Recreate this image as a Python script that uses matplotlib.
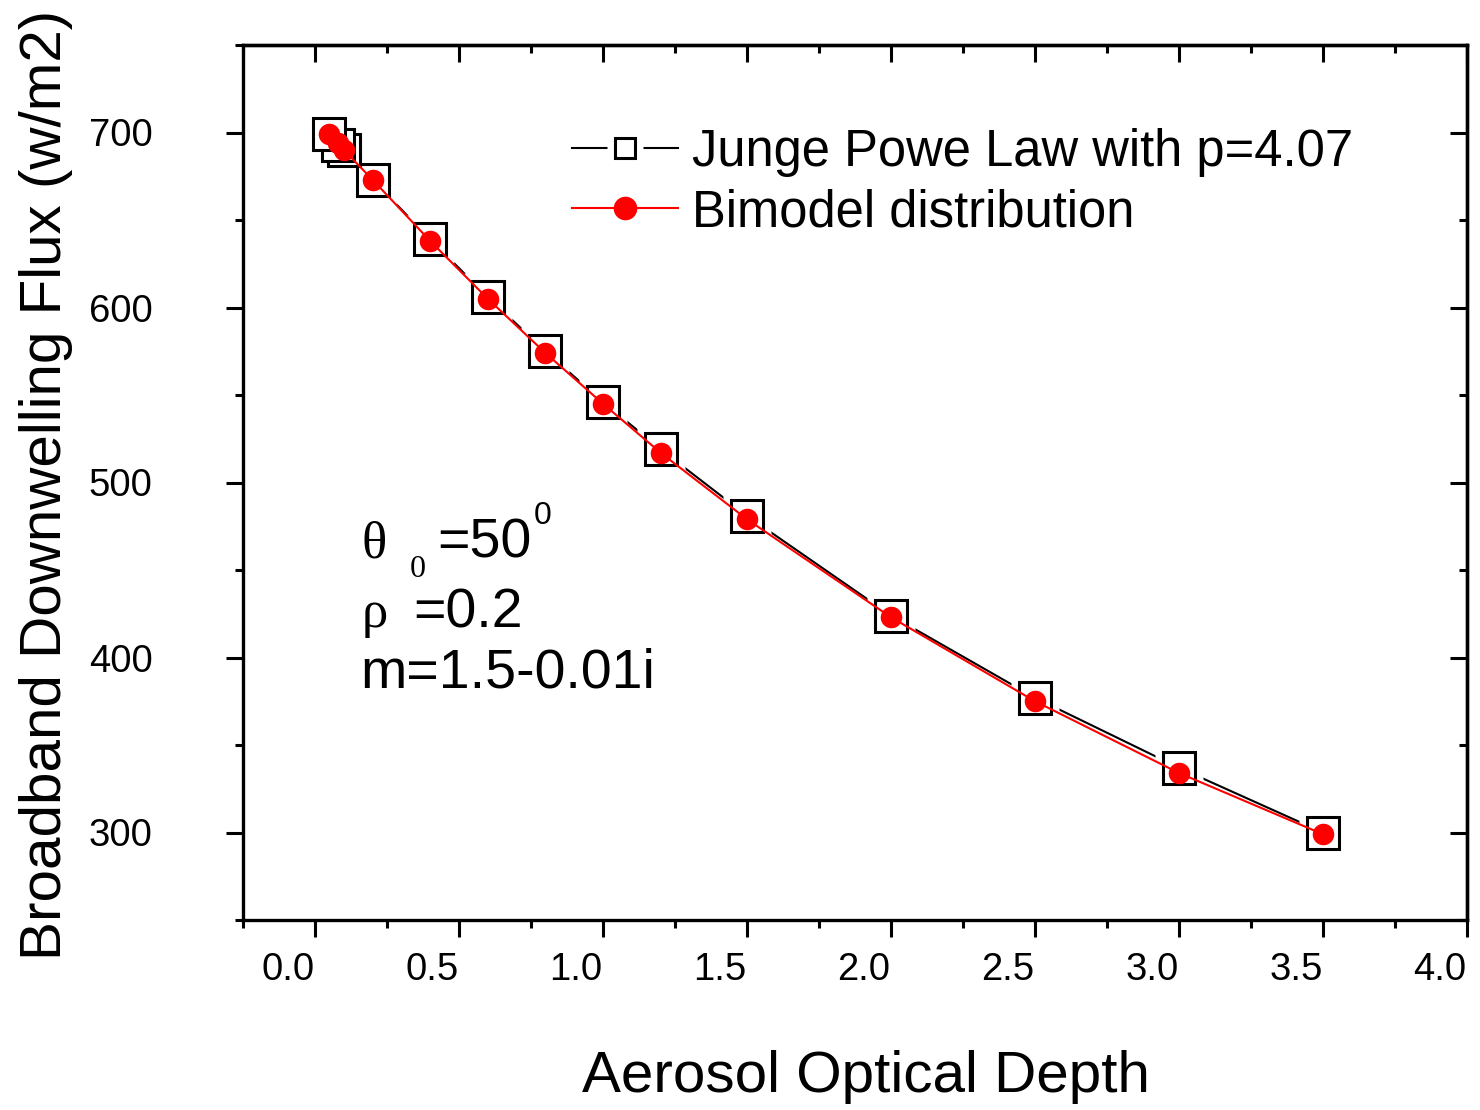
import matplotlib
matplotlib.use("Agg")
import matplotlib.pyplot as plt
from matplotlib.ticker import MultipleLocator, FixedLocator
from matplotlib.transforms import ScaledTranslation
from matplotlib.lines import Line2D
from matplotlib.legend_handler import HandlerTuple

plt.rcParams['font.family'] = ['Liberation Sans', 'DejaVu Sans']

# aerosol optical depth and broadband downwelling flux (W/m2)
aod = [0.05, 0.08, 0.10, 0.20, 0.40, 0.60, 0.80, 1.00, 1.20, 1.50, 2.00, 2.50, 3.00, 3.50]
junge_flux = [699, 693, 690, 673, 639, 606, 575, 546, 519, 481, 424, 377, 337, 300]
bimodal_flux = [699, 694, 690, 673, 638, 605, 574, 545, 517, 479, 423, 375, 334, 299]

junge_label = "Junge Powe Law with p=4.07"
bimodal_label = "Bimodel distribution"
x_ticks = [0.0, 0.5, 1.0, 1.5, 2.0, 2.5, 3.0, 3.5, 4.0]
y_ticks = [300, 400, 500, 600, 700]

W, H = 1480, 1110
fig = plt.figure(figsize=(W / 100, H / 100), dpi=100)
ax = fig.add_axes([243 / W, 1 - 920 / H, 1224 / W, 875 / H])

# black curve with white halo so the line stops short of each square
ax.plot(aod, junge_flux, color='black', lw=1.5, zorder=2)
ax.plot(aod, junge_flux, ls='none', marker='s', ms=35, mfc='white', mec='none', zorder=2.1)
ax.plot(aod[::-1], junge_flux[::-1], ls='none', marker='s', ms=22.5, mfc='white',
        mec='black', mew=2.2, zorder=2.3)
ax.plot(aod, bimodal_flux, color='red', lw=1.5, zorder=2.4)
ax.plot(aod, bimodal_flux, ls='none', marker='o', ms=15.5, mfc='red', mec='none', zorder=2.5)

ax.set_xlim(-0.25, 4.0)
ax.set_ylim(250, 750)
ax.xaxis.set_major_locator(FixedLocator(x_ticks))
ax.xaxis.set_minor_locator(MultipleLocator(0.25))
ax.yaxis.set_major_locator(FixedLocator(y_ticks))
ax.yaxis.set_minor_locator(MultipleLocator(50))
ax.set_xticklabels([f"{v:.1f}" for v in x_ticks])
ax.set_yticklabels([str(v) for v in y_ticks])

for sp in ax.spines.values():
    sp.set_linewidth(2.4)

ax.tick_params(which='both', direction='out', width=2.2, top=False, right=False,
               labelsize=27.5)
ax.tick_params(which='major', length=12)
ax.tick_params(which='minor', length=6)
ax.tick_params(axis='x', which='major', pad=11)
ax.tick_params(axis='y', which='major', pad=53)

# Origin-style: x tick labels sit a bit left of their ticks
shift = ScaledTranslation(-0.27, 0, fig.dpi_scale_trans)
for lab in ax.get_xticklabels():
    lab.set_transform(lab.get_transform() + shift)

# top / right ticks point inward
top = ax.secondary_xaxis('top')
top.xaxis.set_major_locator(FixedLocator(x_ticks))
top.xaxis.set_minor_locator(MultipleLocator(0.25))
top.tick_params(which='both', direction='in', width=2.2, labeltop=False)
top.tick_params(which='major', length=12)
top.tick_params(which='minor', length=6)
top.spines['top'].set_linewidth(2.4)
right = ax.secondary_yaxis('right')
right.yaxis.set_major_locator(FixedLocator(y_ticks))
right.yaxis.set_minor_locator(MultipleLocator(50))
right.tick_params(which='both', direction='in', width=2.2, labelright=False)
right.tick_params(which='major', length=12)
right.tick_params(which='minor', length=6)
right.spines['right'].set_linewidth(2.4)

ax.set_xlabel("Aerosol Optical Depth", fontsize=42)
ax.xaxis.set_label_coords(0.509, -0.149)
ax.set_ylabel("Broadband Downwelling Flux (w/m2)", fontsize=42)
ax.yaxis.set_label_coords(-0.139, 0.497)

# legend
h_junge = (Line2D([], [], color='black', lw=1.5),
           Line2D([], [], ls='none', marker='s', ms=26, mfc='white', mec='none'),
           Line2D([], [], ls='none', marker='s', ms=15, mfc='white', mec='black', mew=2.2))
h_bimodal = (Line2D([], [], color='red', lw=1.5),
             Line2D([], [], ls='none', marker='o', ms=17, mfc='red', mec='none'))
ax.legend([h_junge, h_bimodal], [junge_label, bimodal_label],
          handler_map={tuple: HandlerTuple(ndivide=1, pad=0)},
          loc='upper left', bbox_to_anchor=((572 - 243) / 1224, (920 - 128) / 875),
          frameon=False, fontsize=36.5, handlelength=2.1, handletextpad=0.27,
          labelspacing=0.22, borderpad=0, borderaxespad=0)

# annotation block
def ftext(x, y, s, **kw):
    fig.text(x / W, 1 - y / H, s, va='baseline', ha='left', **kw)

serif = ['Liberation Serif', 'DejaVu Serif']
ftext(362, 558, "θ", fontsize=38, family=serif)
ftext(410, 577, "0", fontsize=23, family=serif)
ftext(437, 558, "=50", fontsize=40)
ftext(534, 524, "0", fontsize=23)
ftext(362, 627, "ρ", fontsize=38, family=serif)
ftext(413, 627, "=0.2", fontsize=40)
ftext(360, 688, "m=1.5-0.01i", fontsize=40)

fig.savefig("out.png", dpi=100)
